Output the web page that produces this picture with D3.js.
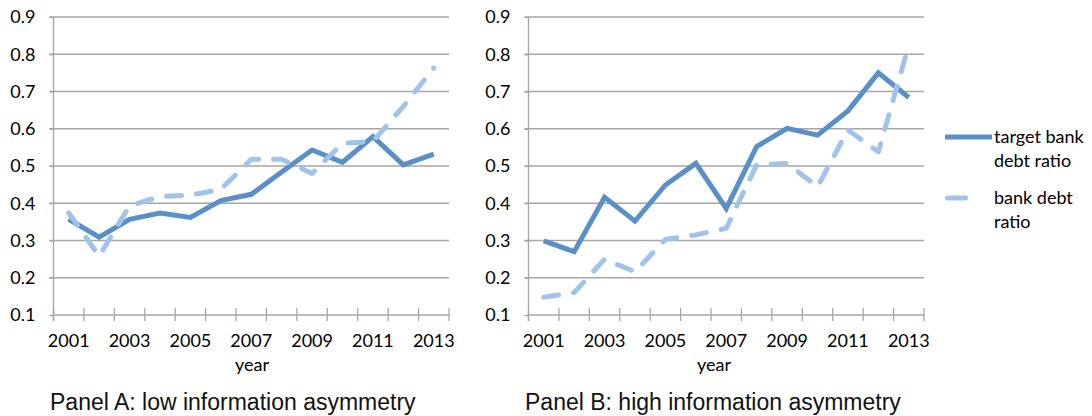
<!doctype html>
<html lang="en">
<head>
  <meta charset="utf-8">
  <title>Bank debt ratio panels</title>
  <script type="text/javascript" src="https://cdnjs.cloudflare.com/ajax/libs/d3/7.8.5/d3.min.js"></script>
  <style>
    body { margin: 0; background: #fff; }
  </style>
</head>
<body>
  <svg width="1092" height="416" id="svg"></svg>
</body>
<script type="text/javascript">

	var years = [2001,2002,2003,2004,2005,2006,2007,2008,2009,2010,2011,2012,2013];
	var yTicks = [0.1,0.2,0.3,0.4,0.5,0.6,0.7,0.8,0.9];
	var seriesNames = ['target bank debt ratio','bank debt ratio'];

	// Panel A: low information asymmetry
	var targetA = [0.357,0.309,0.357,0.374,0.362,0.407,0.424,0.484,0.543,0.510,0.579,0.503,0.532];
	var bankA   = [0.374,0.258,0.393,0.418,0.422,0.437,0.518,0.518,0.480,0.561,0.566,0.660,0.763];

	// Panel B: high information asymmetry
	var targetB = [0.299,0.270,0.416,0.352,0.449,0.507,0.386,0.552,0.601,0.583,0.648,0.750,0.684];
	var bankB   = [0.148,0.160,0.250,0.216,0.303,0.315,0.333,0.503,0.507,0.444,0.597,0.538,0.825];

	var solidColor = '#5a8fc8';
	var dashColor = '#9fc3ea';
	var gridColor = '#a6a6a6';
	var tickFont = 'Lato, "Open Sans", sans-serif';
	var tickSize = 18;

	var svg = d3.select('#svg');

	var y = d3.scaleLinear()
					.domain([0.1,0.9])
					.range([315,17]);

	function drawPanel(left, right, target, bank, title, titleX, yearX) {
		var x = d3.scaleBand()
					.domain(years)
					.range([left,right])
					.padding(0);

		var g = svg.append('g');

		// horizontal gridlines
		g.selectAll('.grid')
			.data(yTicks.slice(1))
			.enter()
			.append('line')
			.attr('class','grid')
			.attr('x1',left - 4)
			.attr('x2',right)
			.attr('y1',function(d) { return y(d); })
			.attr('y2',function(d) { return y(d); })
			.attr('stroke',gridColor)
			.attr('stroke-width',1.3);

		// y axis
		var yAxis = d3.axisLeft(y)
					.tickValues(yTicks)
					.tickSize(4)
					.tickPadding(14)
					.tickFormat(d3.format('.1f'));
		var ya = g.append('g')
			.attr('transform','translate(' + left + ',0)')
			.call(yAxis);
		ya.select('.domain').attr('stroke',gridColor).attr('stroke-width',1.3)
			.attr('d','M0,' + (y(0.1) + 6) + 'V' + y(0.9));
		ya.selectAll('.tick line').attr('stroke',gridColor).attr('stroke-width',1.3);
		ya.selectAll('.tick text')
			.attr('font-family',tickFont)
			.attr('font-size',tickSize)
			.attr('fill','#000');

		// x axis: ticks at band edges, labels on odd years
		var edges = years.map(function(d) { return x(d); }).concat([right]);
		g.append('line')
			.attr('x1',left).attr('x2',right)
			.attr('y1',y(0.1)).attr('y2',y(0.1))
			.attr('stroke',gridColor).attr('stroke-width',1.3);
		g.selectAll('.xtick')
			.data(edges)
			.enter()
			.append('line')
			.attr('class','xtick')
			.attr('x1',function(d) { return d; })
			.attr('x2',function(d) { return d; })
			.attr('y1',y(0.1) - 7)
			.attr('y2',y(0.1) + 6)
			.attr('stroke',gridColor)
			.attr('stroke-width',1.3);
		g.selectAll('.xlabel')
			.data(years.filter(function(d) { return d % 2 === 1; }))
			.enter()
			.append('text')
			.attr('class','xlabel')
			.attr('x',function(d) { return x(d) + x.bandwidth() / 2; })
			.attr('y',347)
			.attr('text-anchor','middle')
			.attr('font-family',tickFont)
			.attr('font-size',tickSize)
			.attr('fill','#000')
			.text(function(d) { return d; });

		g.append('text')
			.attr('x',yearX)
			.attr('y',371)
			.attr('text-anchor','middle')
			.attr('font-family',tickFont)
			.attr('font-size',tickSize)
			.attr('fill','#000')
			.text('year');

		var line = d3.line()
					.x(function(d,i) { return x(years[i]) + x.bandwidth() / 2; })
					.y(function(d) { return y(d); });

		g.append('path')
			.datum(target)
			.attr('d',line)
			.attr('fill','none')
			.attr('stroke',solidColor)
			.attr('stroke-width',5);

		g.append('path')
			.datum(bank)
			.attr('d',line)
			.attr('fill','none')
			.attr('stroke',dashColor)
			.attr('stroke-width',5)
			.attr('stroke-linecap','round')
			.attr('stroke-linejoin','round')
			.attr('stroke-dasharray','15,15');

		svg.append('text')
			.attr('x',titleX)
			.attr('y',410)
			.attr('font-family','"Liberation Sans", Arial, sans-serif')
			.attr('font-size',23)
			.attr('fill','#111')
			.text(title);
	}

	drawPanel(53.5, 449, targetA, bankA, 'Panel A: low information asymmetry', 50, 252);
	drawPanel(528.5, 924, targetB, bankB, 'Panel B: high information asymmetry', 525, 714);

	// legend
	var legend = [
		{name: seriesNames[0], lines: ['target bank','debt ratio'], y: 137, x1: 945, x2: 992, color: solidColor, cap: 'butt'},
		{name: seriesNames[1], lines: ['bank debt','ratio'], y: 198, x1: 947.5, x2: 965.5, color: dashColor, cap: 'round'}
	];

	var lg = svg.selectAll('.legend')
		.data(legend)
		.enter()
		.append('g')
		.attr('class','legend');

	lg.append('line')
		.attr('x1',function(d) { return d.x1; })
		.attr('x2',function(d) { return d.x2; })
		.attr('y1',function(d) { return d.y; })
		.attr('y2',function(d) { return d.y; })
		.attr('stroke',function(d) { return d.color; })
		.attr('stroke-width',5)
		.attr('stroke-linecap',function(d) { return d.cap; });

	lg.selectAll('text')
		.data(function(d) { return d.lines.map(function(t,i) { return {t: t, y: d.y + 6 + i * 23.5}; }); })
		.enter()
		.append('text')
		.attr('x',994)
		.attr('y',function(d) { return d.y; })
		.attr('font-family',tickFont)
		.attr('font-size',tickSize)
		.attr('fill','#000')
		.text(function(d) { return d.t; });

</script>
</html>
